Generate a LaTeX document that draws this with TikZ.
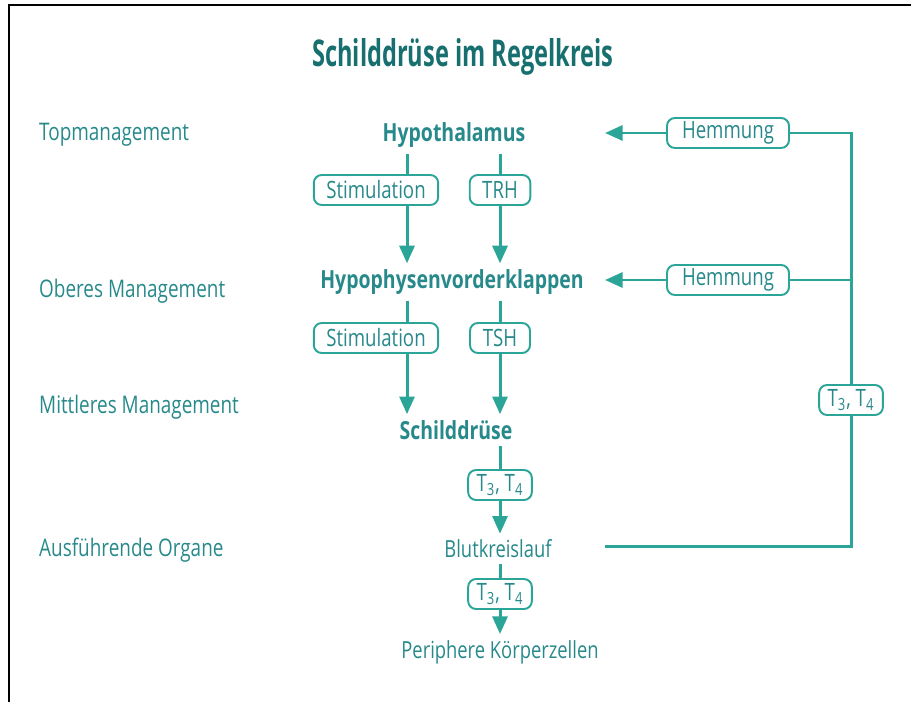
\documentclass[tikz,border=0pt]{standalone}
\usepackage{fontspec}
\setmainfont[FakeStretch=0.78]{Open Sans}
\newfontfamily\titlefont[FakeStretch=0.64]{Open Sans}
\usetikzlibrary{arrows.meta}
\definecolor{tealdark}{HTML}{17706F}
\definecolor{tealtext}{HTML}{28898B}
\definecolor{tealline}{HTML}{2BA597}

\begin{document}
\begin{tikzpicture}[x=0.02cm,y=-0.02cm,
        lvl/.style={text=tealtext,anchor=west,font=\fontsize{13.8}{16}\selectfont},
        organ/.style={text=tealtext,font=\bfseries\fontsize{14.2}{16}\selectfont},
        site/.style={text=tealtext,font=\fontsize{13.4}{16}\selectfont},
        tag/.style={draw=tealline,line width=1.1pt,rounded corners=4.5pt,fill=white,
            text=tealtext,font=\fontsize{13.6}{16}\selectfont,minimum height=0.6cm,
            inner xsep=0.25cm,inner ysep=0pt},
        line/.style={draw=tealline,line width=1.7pt},
        arr/.style={line,-{Triangle[width=8.5pt,length=10pt]}}]
\useasboundingbox (0,0) rectangle (911,702);
\draw[line width=1.6pt] (9,702) -- (9,5) -- (911,5);

\node[text=tealdark,font=\titlefont\bfseries\fontsize{21}{24}\selectfont] (ttl) at (463,57) {Schilddrüse im Regelkreis};

% Ebenen
\node[lvl] (l1) at (33,135) {Topmanagement};
\node[lvl] (l2) at (33,291) {Oberes Management};
\node[lvl] (l3) at (33,407) {Mittleres Management};
\node[lvl] (l4) at (33,550) {Ausführende Organe};

% Organe
\node[organ] (hyp) at (454,135) {Hypothalamus};
\node[organ] (hvl) at (452,282) {Hypophysenvorderklappen};
\node[organ] (sd) at (456,430) {Schilddrüse};
\node[site] (blut) at (498,549) {Blutkreislauf};
\node[site] (pk) at (500,652) {Periphere Körperzellen};

\coordinate (cl) at (407,0);
\coordinate (cr) at (500,0);

% Botenstoffe
\node[tag,minimum width=2.42cm] (st1) at (376,190) {Stimulation};
\node[tag,minimum width=1.2cm] (trh) at (500,190) {TRH};
\node[tag,minimum width=2.42cm] (st2) at (376,338) {Stimulation};
\node[tag,minimum width=1.2cm] (tsh) at (500,338) {TSH};
\node[tag,inner xsep=0.17cm] (t1) at (500,485) {T\textsubscript{3}, T\textsubscript{4}};
\node[tag,inner xsep=0.17cm] (t2) at (500,594) {T\textsubscript{3}, T\textsubscript{4}};
\node[tag,inner xsep=0.17cm] (t3) at (851,400) {T\textsubscript{3}, T\textsubscript{4}};
\node[tag,minimum width=2.44cm] (hm1) at (728,133) {Hemmung};
\node[tag,minimum width=2.44cm] (hm2) at (728,280) {Hemmung};

\draw[line] (hyp.south -| cl) -- (st1.north -| cl);
\draw[arr] (st1.south -| cl) -- (hvl.north -| cl);
\draw[line] (hyp.south -| cr) -- (trh.north);
\draw[arr] (trh.south) -- (hvl.north -| cr);
\draw[line] (hvl.south -| cl) -- (st2.north -| cl);
\draw[arr] (st2.south -| cl) -- (sd.north -| cl);
\draw[line] (hvl.south -| cr) -- (tsh.north);
\draw[arr] (tsh.south) -- (sd.north -| cr);
\draw[line] (sd.south -| cr) -- (t1.north);
\draw[arr] (t1.south) -- (blut.north -| cr);
\draw[line] (blut.south -| cr) -- (t2.north);
\draw[arr] (t2.south) -- (pk.north -| cr);

% Rueckkopplung
\coordinate (fb) at (605,546);
\coordinate (in1) at (605,133);
\coordinate (in2) at (605,280);
\draw[line] (fb) -| (t3.south);
\draw[line] (t3.north) |- (hm2.east);
\draw[line] (hm2.east -| t3) |- (hm1.east);
\draw[arr] (hm1.west) -- (in1);
\draw[arr] (hm2.west) -- (in2);
\end{tikzpicture}
\end{document}
